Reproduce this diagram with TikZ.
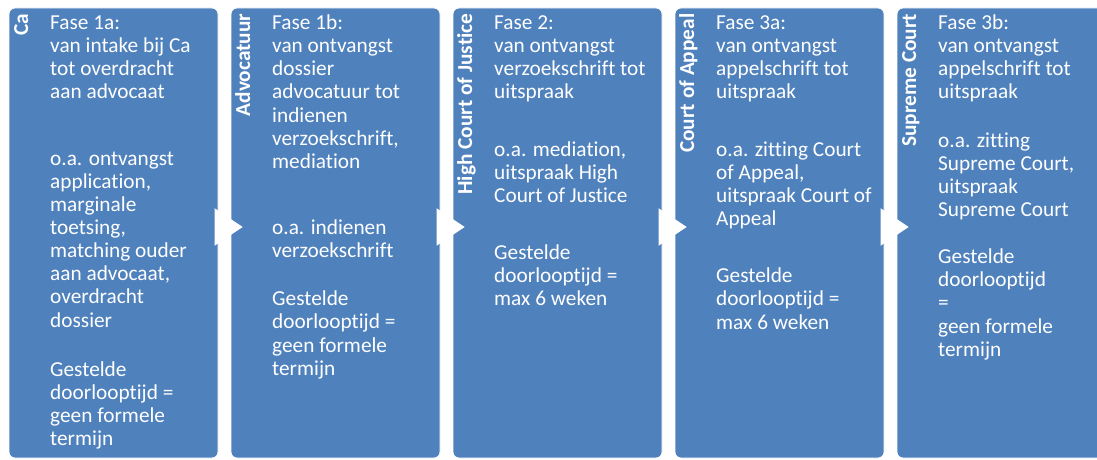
\documentclass[tikz,border=0pt]{standalone}
\usepackage{fontspec}
\setmainfont{Carlito}[Ligatures=NoCommon]
\usetikzlibrary{positioning}

\definecolor{phaseblue}{HTML}{4F81BD}

\tikzset{
    phase/.style={fill=phaseblue, draw=white, line width=0.8pt, rounded corners=6pt,
        minimum width=209pt, minimum height=450pt, inner sep=0pt, outer sep=0pt},
    phasetitle/.style={rotate=90, anchor=base east, inner sep=0pt, text=white,
        font=\bfseries\fontsize{21.3}{24}\selectfont},
    phasetext/.style={anchor=north west, inner sep=0pt, align=left, text=white,
        font=\fontsize{21.3}{23.15}\selectfont},
    flowtip/.style={fill=white, draw=white, line width=3pt, line join=miter}
}

\begin{document}
\begin{tikzpicture}[x=1pt,y=1pt]
    \useasboundingbox (0,0) rectangle (1097,459);
    \clip (0,0) rectangle (1097,459);

    \node[phase, anchor=north west] (pA) at (9,451) {};
    \node[phase, right=13pt of pA] (pB) {};
    \node[phase, right=13pt of pB] (pC) {};
    \node[phase, right=13pt of pC] (pD) {};
    \node[phase, right=13pt of pD] (pE) {};

    \node[phasetitle] (hA) at ([xshift=19pt,yshift=-5.5pt]pA.north west) {Ca};
    \node[phasetitle] (hB) at ([xshift=19pt,yshift=-5.5pt]pB.north west) {Advocatuur};
    \node[phasetitle] (hC) at ([xshift=19pt,yshift=-5.5pt]pC.north west) {High Court of Justice};
    \node[phasetitle] (hD) at ([xshift=19pt,yshift=-5.5pt]pD.north west) {Court of Appeal};
    \node[phasetitle] (hE) at ([xshift=19pt,yshift=-5.5pt]pE.north west) {Supreme Court};

    \node[phasetext] (dA) at ([xshift=41pt,yshift=-7.5pt]pA.north west) {Fase 1a:\\
        van intake bij Ca\\ tot overdracht\\ aan advocaat\\[43pt]
        o.a. ontvangst\\ application,\\ marginale\\ toetsing,\\ matching ouder\\
        aan advocaat,\\ overdracht\\ dossier\\[26pt]
        Gestelde\\ doorlooptijd =\\ geen formele\\ termijn};
    \node[phasetext] (dB) at ([xshift=41pt,yshift=-6.5pt]pB.north west) {Fase 1b:\\
        van ontvangst\\ dossier\\ advocatuur tot\\ indienen\\ verzoekschrift,\\ mediation\\[43pt]
        o.a. indienen\\ verzoekschrift\\[25pt]
        Gestelde\\ doorlooptijd =\\ geen formele\\ termijn};
    \node[phasetext] (dC) at ([xshift=41pt,yshift=-7.5pt]pC.north west) {Fase 2:\\
        van ontvangst\\ verzoekschrift tot\\ uitspraak\\[34pt]
        o.a. mediation,\\ uitspraak High\\ Court of Justice\\[34pt]
        Gestelde\\ doorlooptijd =\\ max 6 weken};
    \node[phasetext] (dD) at ([xshift=41pt,yshift=-7.5pt]pD.north west) {Fase 3a:\\
        van ontvangst\\ appelschrift tot\\ uitspraak\\[34pt]
        o.a. zitting Court\\ of Appeal,\\ uitspraak Court of\\ Appeal\\[34pt]
        Gestelde\\ doorlooptijd =\\ max 6 weken};
    \node[phasetext] (dE) at ([xshift=41pt,yshift=-6.5pt]pE.north west) {Fase 3b:\\
        van ontvangst\\ appelschrift tot\\ uitspraak\\[25pt]
        o.a. zitting\\ Supreme Court,\\ uitspraak\\ Supreme Court\\[24pt]
        Gestelde\\ doorlooptijd\\ =\\ geen formele\\ termijn};

    \draw[flowtip] ([xshift=-2pt,yshift=22pt]pA.east) -- ([xshift=-2pt,yshift=-10pt]pA.east)
        -- ([xshift=9pt,yshift=6pt]pB.west) -- cycle;
    \draw[flowtip] ([xshift=-2pt,yshift=22pt]pB.east) -- ([xshift=-2pt,yshift=-10pt]pB.east)
        -- ([xshift=9pt,yshift=6pt]pC.west) -- cycle;
    \draw[flowtip] ([xshift=-2pt,yshift=22pt]pC.east) -- ([xshift=-2pt,yshift=-10pt]pC.east)
        -- ([xshift=9pt,yshift=6pt]pD.west) -- cycle;
    \draw[flowtip] ([xshift=-2pt,yshift=22pt]pD.east) -- ([xshift=-2pt,yshift=-10pt]pD.east)
        -- ([xshift=9pt,yshift=6pt]pE.west) -- cycle;
\end{tikzpicture}
\end{document}
